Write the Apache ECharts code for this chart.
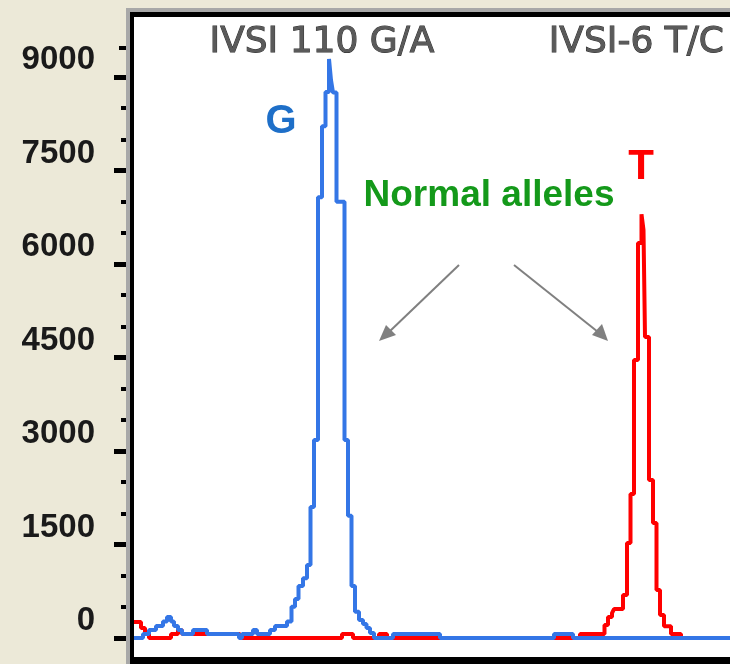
<!DOCTYPE html>
<html>
<head>
<meta charset="utf-8">
<script src="https://cdn.jsdelivr.net/npm/echarts@6/dist/echarts.min.js"></script>
<style>html,body{margin:0;padding:0;background:#ECE9D8;}#c{width:730px;height:664px;}</style>
</head>
<body>
<div id="c"></div>
<script>
// scan positions (x) and signal intensities (y), step traces
const blueX = [3,7.5,10.5,14,17.5,19.5,21.5,23,25,27,32.5,39.5,55.5,57,62.5,64.5,71,73.5,79.5,81.75,83.5,85.25,87.5,89.5,91.25,93,95,97,98.75,100.5,101.5,102.5,104.25,108.25,110,111.75,113.5,115.5,117.5,119.25,121,123,132.5,156,213,222.5,301];
const blueY = [0,64,128,192,265,337,265,192,128,64,128,64,0,64,128,64,128,192,265,500,625,835,960,1170,2100,3175,7070,8210,8760,9290,8950,8750,7000,3175,1960,835,420,290,225,160,80,0,64,0,64,0,0];
const redX = [3,6.5,8.5,10.5,21.5,25,27,56,107,112.5,125.5,129.5,226,238.25,240,242,243,247.5,249.5,251.25,253,255,256.75,257.75,258.5,260.5,262.5,264.25,266,268,271.5,276.5,301];
const redY = [257,160,64,0,64,128,64,0,64,0,64,0,64,210,335,400,465,690,1525,2310,4460,6335,6800,6545,4830,2535,1845,770,370,190,64,0,0];
const yTicks = ['0','1500','3000','4500','6000','7500','9000'];
const headings = ['IVSI 110 G/A', 'IVSI-6 T/C'];
const peakLabels = ['G', 'T'];
const noteText = 'Normal alleles';

const zip = (xs, ys) => xs.map((x, i) => [x, ys[i]]);
const chart = echarts.init(document.getElementById('c'));
const headStyle = { font: '36px "DejaVu Sans"', fill: '#5a5a5a', stroke: '#2e2e2e', lineWidth: 1,
  shadowColor: 'rgba(0,0,0,0.35)', shadowOffsetX: 1, shadowOffsetY: 1, shadowBlur: 1, textVerticalAlign: 'middle' };
chart.setOption({
  animation: false,
  backgroundColor: '#ECE9D8',
  grid: { left: 126, right: 0, top: 77, bottom: 26 },
  xAxis: { type: 'value', min: -1, max: 301, show: false },
  yAxis: {
    type: 'value', min: 0, max: 9000, interval: 1500,
    axisLine: { show: false },
    splitLine: { show: false },
    axisTick: { show: true, length: 14, lineStyle: { color: '#000', width: 5 } },
    minorTick: { show: true, splitNumber: 3, length: 7, lineStyle: { color: '#000', width: 4 } },
    axisLabel: {
      margin: 31, color: '#1a1a1a', fontFamily: 'Liberation Sans', fontWeight: 'bold', fontSize: 33,
      verticalAlign: 'bottom', lineHeight: 34,
      formatter: (v) => { const i = Math.round(v / 1500); return yTicks[i] || ''; }
    }
  },
  series: [
    { type: 'line', data: zip(redX, redY), step: 'end', symbol: 'none', clip: false,
      lineStyle: { color: '#FF0000', width: 4 }, z: 3 },
    { type: 'line', data: zip(blueX, blueY), step: 'end', symbol: 'none', clip: false,
      lineStyle: { color: '#3476E6', width: 4 }, z: 4 }
  ],
  graphic: [
    { type: 'rect', z: -1, shape: { x: 134, y: 17, width: 596, height: 640 }, style: { fill: '#fff' } },
    { type: 'rect', z: 100, shape: { x: 126, y: 8, width: 604, height: 4 }, style: { fill: '#A8A8A8' } },
    { type: 'rect', z: 100, shape: { x: 126, y: 8, width: 4, height: 656 }, style: { fill: '#A8A8A8' } },
    { type: 'rect', z: 100, shape: { x: 130, y: 12, width: 4, height: 652 }, style: { fill: '#000' } },
    { type: 'rect', z: 100, shape: { x: 130, y: 12, width: 600, height: 5 }, style: { fill: '#000' } },
    { type: 'rect', z: 100, shape: { x: 130, y: 657, width: 600, height: 7 }, style: { fill: '#000' } },
    { type: 'rect', z: 100, shape: { x: 119, y: 46, width: 7, height: 4 }, style: { fill: '#000' } },
    { type: 'text', z: 50, style: Object.assign({ text: headings[0], x: 322, y: 43, textAlign: 'center' }, headStyle) },
    { type: 'text', z: 50, style: Object.assign({ text: headings[1], x: 724, y: 43, textAlign: 'right' }, headStyle) },
    { type: 'text', z: 50, style: { text: peakLabels[0], x: 281, y: 122, textAlign: 'center', textVerticalAlign: 'middle',
      font: 'bold 40px "Liberation Sans"', fill: '#1E6FC8' } },
    { type: 'text', z: 50, style: { text: peakLabels[1], x: 641, y: 167, textAlign: 'center', textVerticalAlign: 'middle',
      font: 'bold 42px "Liberation Sans"', fill: '#FF0000' } },
    { type: 'text', z: 50, style: { text: noteText, x: 489, y: 196, textAlign: 'center', textVerticalAlign: 'middle',
      font: 'bold 37px "Liberation Sans"', fill: '#14991A' } },
    { type: 'line', z: 50, shape: { x1: 459, y1: 265, x2: 389, y2: 332 }, style: { stroke: '#808080', lineWidth: 2 } },
    { type: 'polygon', z: 50, shape: { points: [[379, 341], [386, 325], [396, 335]] }, style: { fill: '#808080' } },
    { type: 'line', z: 50, shape: { x1: 514, y1: 265, x2: 598, y2: 332 }, style: { stroke: '#808080', lineWidth: 2 } },
    { type: 'polygon', z: 50, shape: { points: [[608, 341], [592, 335], [602, 324]] }, style: { fill: '#808080' } }
  ]
});
</script>
</body>
</html>
